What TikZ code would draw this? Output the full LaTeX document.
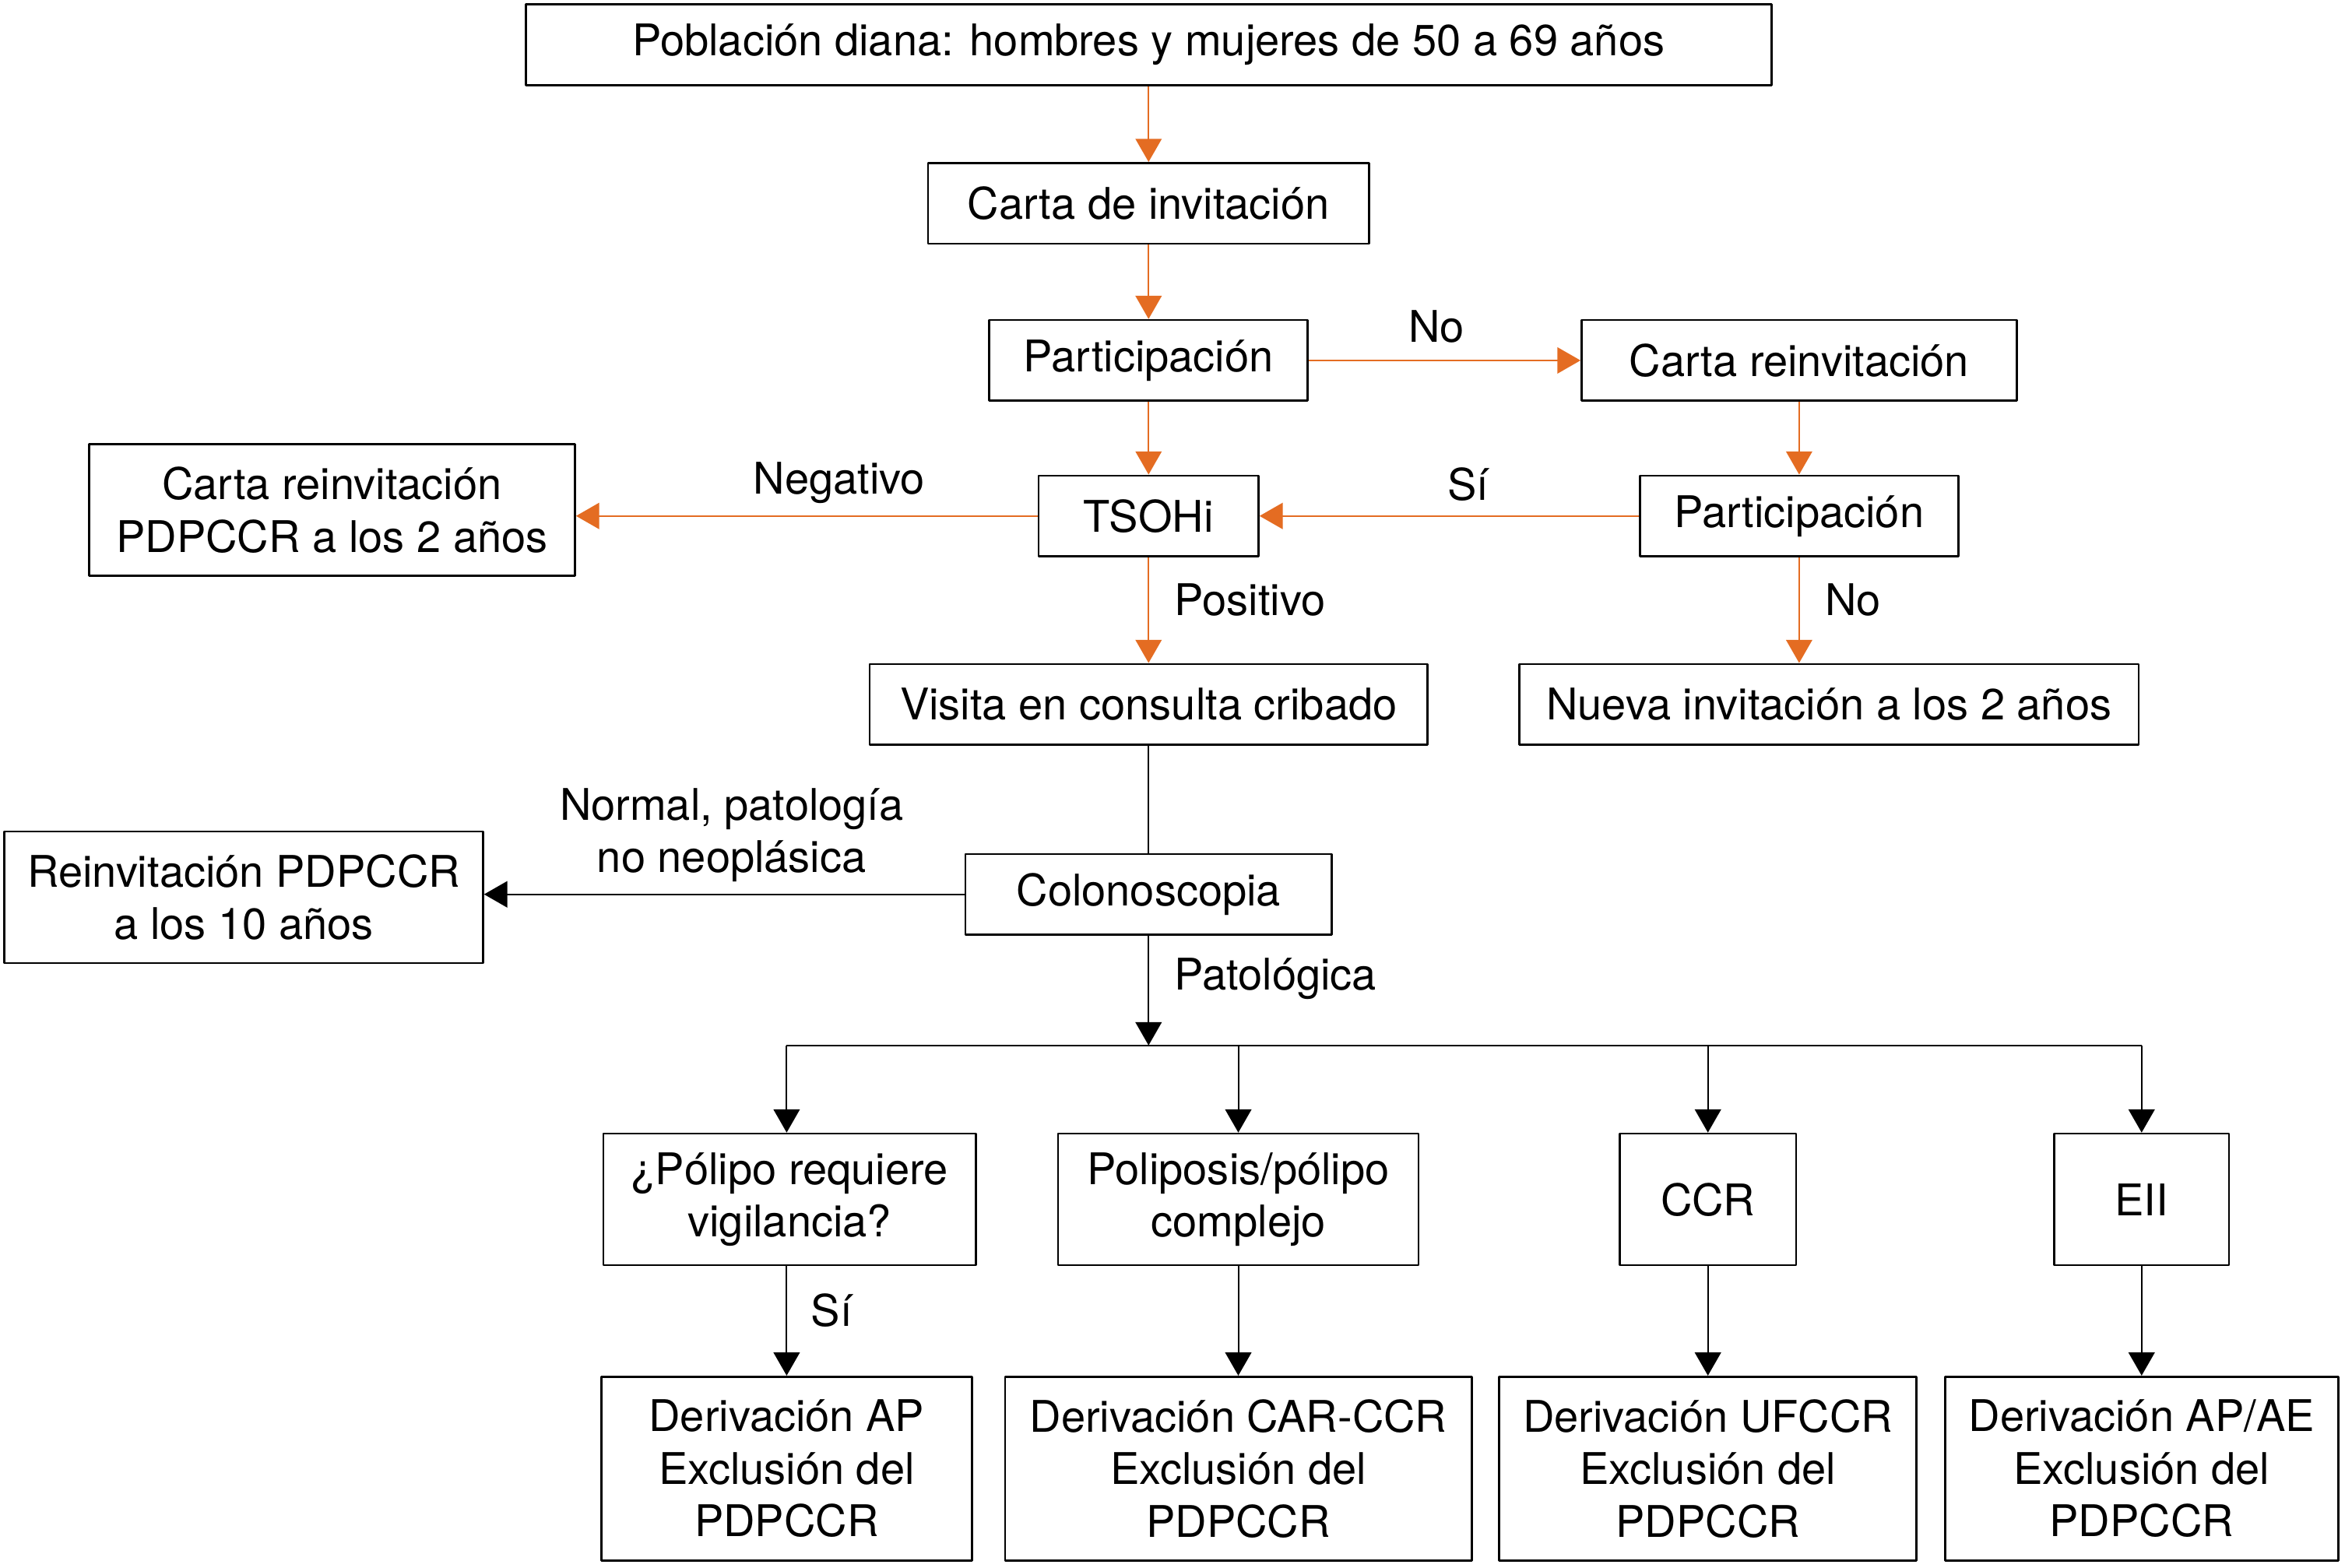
\documentclass[tikz,border=0pt]{standalone}
\usepackage{fontspec}
\setmainfont{TeX Gyre Heros}
\usetikzlibrary{arrows.meta}
\definecolor{naranja}{RGB}{228,108,34}
\begin{document}
\begin{tikzpicture}[x=0.02cm,y=-0.02cm,line join=round,
	>={Triangle[length=3.1mm,width=3.5mm]},
	font=\fontsize{16.6}{20}\selectfont,
	caja/.style 2 args={draw,line width=0.8pt,inner sep=0pt,align=center,minimum width=#1,minimum height=#2},
	flecha/.style={->,line width=0.6pt},
	naranjo/.style={flecha,color=naranja,text=black}]
	\useasboundingbox (0,0) rectangle (1568,1048);
	% cribado
	\node[caja={16.66cm}{1.08cm}] (diana) at (768,30) {Población diana: hombres y mujeres de 50 a 69 años};
	\node[caja={5.90cm}{1.08cm}] (carta) at (768,136) {Carta de invitación};
	\node[caja={4.26cm}{1.08cm}] (part) at (768,241) {Participación};
	\node[caja={5.82cm}{1.08cm}] (reinv) at (1203,241) {Carta reinvitación};
	\node[caja={2.94cm}{1.08cm}] (tsohi) at (768,345) {TSOHi};
	\node[caja={4.26cm}{1.08cm}] (partb) at (1203,345) {Participación};
	\node[caja={6.50cm}{1.76cm}] (cartapd) at (222,341) {Carta reinvitación\\PDPCCR a los 2 años};
	\node[caja={7.46cm}{1.08cm}] (visita) at (768,471) {Visita en consulta cribado};
	\node[caja={8.28cm}{1.08cm}] (nueva) at (1223,471) {Nueva invitación a los 2 años};
	% colonoscopia
	\node[caja={4.90cm}{1.08cm}] (colono) at (768,598) {Colonoscopia};
	\node[caja={6.40cm}{1.76cm}] (reinvdiez) at (163,600) {Reinvitación PDPCCR\\a los 10 años};
	\coordinate (bus) at (768,699);
	\node[caja={4.98cm}{1.76cm}] (polipo) at (528,802) {¿Pólipo requiere\\vigilancia?};
	\node[caja={4.82cm}{1.76cm}] (poliposis) at (828,802) {Poliposis/pólipo\\complejo};
	\node[caja={2.36cm}{1.76cm}] (ccr) at (1142,802) {CCR};
	\node[caja={2.34cm}{1.76cm}] (eii) at (1432,802) {EII};
	\node[caja={4.96cm}{2.46cm}] (derap) at (526,982) {Derivación AP\\Exclusión del\\PDPCCR};
	\node[caja={6.24cm}{2.46cm}] (dercar) at (828,982) {Derivación CAR-CCR\\Exclusión del\\PDPCCR};
	\node[caja={5.58cm}{2.46cm}] (deruf) at (1142,982) {Derivación UFCCR\\Exclusión del\\PDPCCR};
	\node[caja={5.26cm}{2.46cm}] (derae) at (1432,982) {Derivación AP/AE\\Exclusión del\\PDPCCR};
	% flechas naranjas
	\draw[naranjo] (diana) -- (carta);
	\draw[naranjo] (carta) -- (part);
	\draw[naranjo] (part) -- (tsohi);
	\draw[naranjo] (part) -- (reinv) node[pos=0.47,above=3pt] {No};
	\draw[naranjo] (reinv) -- (partb);
	\draw[naranjo] (partb) -- (tsohi) node[pos=0.45,above=2pt] {Sí};
	\draw[naranjo] (tsohi.west) -- (tsohi.west -| cartapd.east) node[pos=0.43,above=1pt] {Negativo};
	\draw[naranjo] (tsohi) -- (visita) node[midway,right=0.22cm,yshift=0.14cm] {Positivo};
	\draw[naranjo] (partb.south) -- (partb.south |- nueva.north) node[midway,right=0.22cm,yshift=0.14cm] {No};
	% flechas negras
	\draw[line width=0.6pt] (visita) -- (colono);
	\draw[flecha] (colono.west) -- (colono.west -| reinvdiez.east) node[midway,above=1pt,xshift=0.1cm,align=center] {Normal, patología\\no neoplásica};
	\draw[flecha] (colono) -- (bus) node[midway,right=0.22cm,yshift=0.16cm] {Patológica};
	\draw[line width=0.6pt] (bus -| derap) -- (bus -| eii);
	\draw[flecha] (bus -| derap) -- (derap |- polipo.north);
	\foreach \c in {poliposis,ccr,eii} \draw[flecha] (bus -| \c) -- (\c);
	\draw[flecha] (polipo.south -| derap) -- (derap) node[midway,right=0.2cm,yshift=0.14cm] {Sí};
	\draw[flecha] (poliposis) -- (dercar);
	\draw[flecha] (ccr) -- (deruf);
	\draw[flecha] (eii) -- (derae);
\end{tikzpicture}
\end{document}
